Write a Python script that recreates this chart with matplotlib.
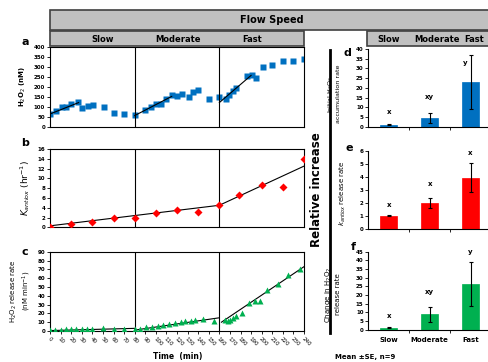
import numpy as np
import matplotlib
matplotlib.use('Agg')
import matplotlib.pyplot as plt
from matplotlib.patches import Rectangle
from matplotlib.lines import Line2D

W, H = 488, 362

# panel a: H2O2 (nM) vs time
a_t = [0, 6, 11, 15, 20, 26, 30, 36, 41, 51, 60, 70,
       80, 90, 95, 100, 105, 110, 115, 120, 125, 131, 135, 140, 150,
       160, 166, 169, 173, 176, 186, 191, 195, 201, 210, 220, 230, 240]
a_y = [65, 82, 98, 98, 113, 123, 97, 107, 110, 98, 68, 63,
       60, 85, 98, 113, 117, 138, 160, 155, 163, 152, 175, 183, 138,
       152, 138, 158, 182, 197, 253, 258, 245, 300, 310, 330, 332, 342]
a_fit = [([0, 27], [65, 122]), ([80, 115], [57, 153]), ([160, 190], [122, 258])]

# panel b: K antiox
b_t = [0, 20, 40, 60, 80, 100, 120, 140, 160, 179, 200, 220, 240]
b_y = [0.1, 0.7, 1.1, 2.0, 2.0, 2.85, 3.45, 3.05, 4.55, 6.5, 8.6, 8.3, 13.9]
b_fit = ([0, 160, 240], [0.3, 4.5, 12.5])

# panel c: H2O2 release rate
c_t = [0, 5, 10, 15, 20, 25, 30, 35, 40, 50, 60, 70,
       80, 85, 91, 96, 102, 107, 112, 118, 124, 128, 133, 137, 145, 155,
       165, 168, 170, 173, 176, 181, 188, 194, 198, 205, 215, 225, 236]
c_y = [1, 1.5, 1.5, 2, 2, 2, 2.5, 2.5, 2.5, 3, 2.5, 2.5,
       2, 2, 4, 5, 6, 7.3, 8.3, 9.6, 10.5, 11, 11.5, 12, 13.5, 11.5,
       12.5, 11.7, 12.5, 15, 17, 20.8, 32, 34, 34, 46, 53.7, 63, 70]
c_fit = [([0, 80], [0.5, 3]), ([80, 160], [1, 15]), ([162, 240], [10, 73])]

# right panels: relative increase
speeds = ['Slow', 'Moderate', 'Fast']
d_val = [1.1, 4.7, 23.0]
d_err = [0.3, 2.6, 13.8]
d_sig = ['x', 'xy', 'y']
d_sig_y = [7.7, 15.1, 33.0]
e_val = [1.0, 2.0, 3.92]
e_err = [0.05, 0.38, 1.1]
e_sig = ['x', 'x', 'x']
e_sig_y = [1.8, 3.45, 5.85]
f_val = [1.0, 8.9, 26.2]
f_err = [0.3, 4.4, 12.7]
f_sig = ['x', 'xy', 'y']
f_sig_y = [7.9, 21.6, 45.0]

blue = '#0070C0'
red = '#FF0000'
green = '#00B050'

plt.rcParams['font.family'] = 'DejaVu Sans'
fig = plt.figure(figsize=(W / 100, H / 100), dpi=100)


def px_axes(x0, y0, x1, y1):
    return fig.add_axes([x0 / W, 1 - y1 / H, (x1 - x0) / W, (y1 - y0) / H])


def px(x, y):
    return x / W, 1 - y / H


def style(ax, ymax, ystep):
    ax.set_ylim(0, ymax)
    ax.set_yticks(np.arange(0, ymax + 0.01, ystep))
    ax.tick_params(axis='y', labelsize=4, length=2, width=0.6, pad=1.5)
    for lab in ax.get_yticklabels():
        lab.set_fontweight('bold')
    for s in ax.spines.values():
        s.set_linewidth(0.8)


# header boxes
for (x0, y0, x1, y1) in [(50, 10, 490, 30), (50, 31, 304, 46), (367, 31, 490, 46)]:
    fig.patches.append(Rectangle(px(x0, y1), (x1 - x0) / W, (y1 - y0) / H,
                                 transform=fig.transFigure, facecolor='#c0c0c0',
                                 edgecolor='#404040', linewidth=1.2))
fig.text(*px(272, 20), 'Flow Speed', ha='center', va='center', fontsize=7, fontweight='bold')
for x, s in [(103, 'Slow'), (178, 'Moderate'), (252, 'Fast'),
             (389, 'Slow'), (437, 'Moderate'), (474, 'Fast')]:
    fig.text(*px(x, 39), s, ha='center', va='center', fontsize=6, fontweight='bold')

# left panels
axa = px_axes(50, 47, 304, 127)
axb = px_axes(50, 149, 304, 227.3)
axc = px_axes(50, 251.7, 304, 331)

axa.plot(a_t, a_y, 's', color=blue, ms=4.4, mec='none')
for xs, ys in a_fit:
    axa.plot(xs, ys, color='black', lw=0.8)
style(axa, 400, 50)

axb.plot(b_t, b_y, 'D', color=red, ms=4, mec='none', zorder=3)
axb.plot(*b_fit, color='black', lw=0.8, zorder=2)
style(axb, 16, 2)

axc.plot(c_t, c_y, '^', color=green, ms=4.6, mec='none', zorder=3)
for xs, ys in c_fit:
    axc.plot(xs, ys, color='black', lw=0.8, zorder=2)
style(axc, 90, 10)

for ax in (axa, axb, axc):
    ax.set_xlim(0, 240)
    for xv in (80, 160):
        ax.axvline(xv, color='black', lw=0.8)
for ax in (axa, axb):
    ax.set_xticks([])
axc.set_xticks(np.arange(0, 241, 10))
axc.set_xticklabels([str(v) for v in range(0, 241, 10)], rotation=-45,
                    ha='left', va='top', rotation_mode='anchor')
axc.tick_params(axis='x', labelsize=4, length=2, width=0.6, pad=2)

axa.set_ylabel('H$_2$O$_2$ (nM)', fontsize=5, fontweight='bold', labelpad=4)
axb.set_ylabel('$K_{antiox}$ (hr$^{-1}$)', fontsize=6.5, labelpad=4)
axc.set_ylabel('H$_2$O$_2$ release rate\n(nM min$^{-1}$)', fontsize=5, labelpad=3)
fig.text(*px(178, 356), 'Time  (min)', ha='center', va='center', fontsize=5.5, fontweight='bold')

for x, y, s in [(25, 42, 'a'), (25, 143, 'b'), (25, 252, 'c'),
                (347, 53, 'd'), (349, 148, 'e'), (353, 247, 'f')]:
    fig.text(*px(x, y), s, ha='center', va='center', fontsize=8, fontweight='bold')

# relative increase bracket
fig.add_artist(Line2D([329.5 / W, 329.5 / W], [1 - 50 / H, 1 - 333 / H],
                      transform=fig.transFigure, color='black', lw=2))
fig.text(*px(317, 190), 'Relative increase', rotation=90, ha='center', va='center',
         fontsize=8.5, fontweight='bold')

# right panels
axd = px_axes(368.3, 49, 491, 126.7)
axe = px_axes(368.3, 150.7, 491, 228.7)
axf = px_axes(368.3, 251.7, 491, 329.7)
pos = np.arange(3)
for ax, vals, errs, sig, sig_y, col, ymax, step in [
        (axd, d_val, d_err, d_sig, d_sig_y, blue, 40, 5),
        (axe, e_val, e_err, e_sig, e_sig_y, red, 6, 1),
        (axf, f_val, f_err, f_sig, f_sig_y, green, 45, 5)]:
    ax.bar(pos, vals, width=0.42, color=col, edgecolor=col, linewidth=0.5)
    ax.errorbar(pos, vals, yerr=errs, fmt='none', ecolor='black', elinewidth=0.8,
                capsize=1.5, capthick=0.8)
    for p, s, sy in zip(pos, sig, sig_y):
        xs = p - 0.13 if (ax is axd and p == 2) else p
        ax.text(xs, sy, s, ha='center', va='center', fontsize=5, fontweight='bold',
                clip_on=False)
    style(ax, ymax, step)
    ax.set_xlim(-0.5, 2.5)
    ax.spines['top'].set_visible(False)
    ax.spines['right'].set_visible(False)
    ax.set_xticks([0.5, 1.5])
    ax.set_xticklabels([])
    ax.tick_params(axis='x', length=2, width=0.6, direction='out')

axf.set_xticks([0, 0.5, 1, 1.5, 2])
axf.set_xticklabels(['Slow', '', 'Moderate', '', 'Fast'], fontsize=5, fontweight='bold')
for t in axf.xaxis.get_major_ticks()[0::2]:
    t.tick1line.set_visible(False)

axd.set_ylabel('Initial H$_2$O$_2$\naccumulation rate', fontsize=4.6)
axe.set_ylabel('$k_{antiox}$ release rate', fontsize=5)
axf.set_ylabel('Change in H$_2$O$_2$\nrelease rate', fontsize=5)
axd.yaxis.set_label_coords((341 - 368.3) / 122.7, 0.42)
axe.yaxis.set_label_coords((348 - 368.3) / 122.7, 0.45)
axf.yaxis.set_label_coords((341 - 368.3) / 122.7, 0.45)

fig.text(*px(335, 357), 'Mean \u00b1SE, n=9', ha='left', va='center', fontsize=5, fontweight='bold')

fig.savefig('out.png', dpi=100)
